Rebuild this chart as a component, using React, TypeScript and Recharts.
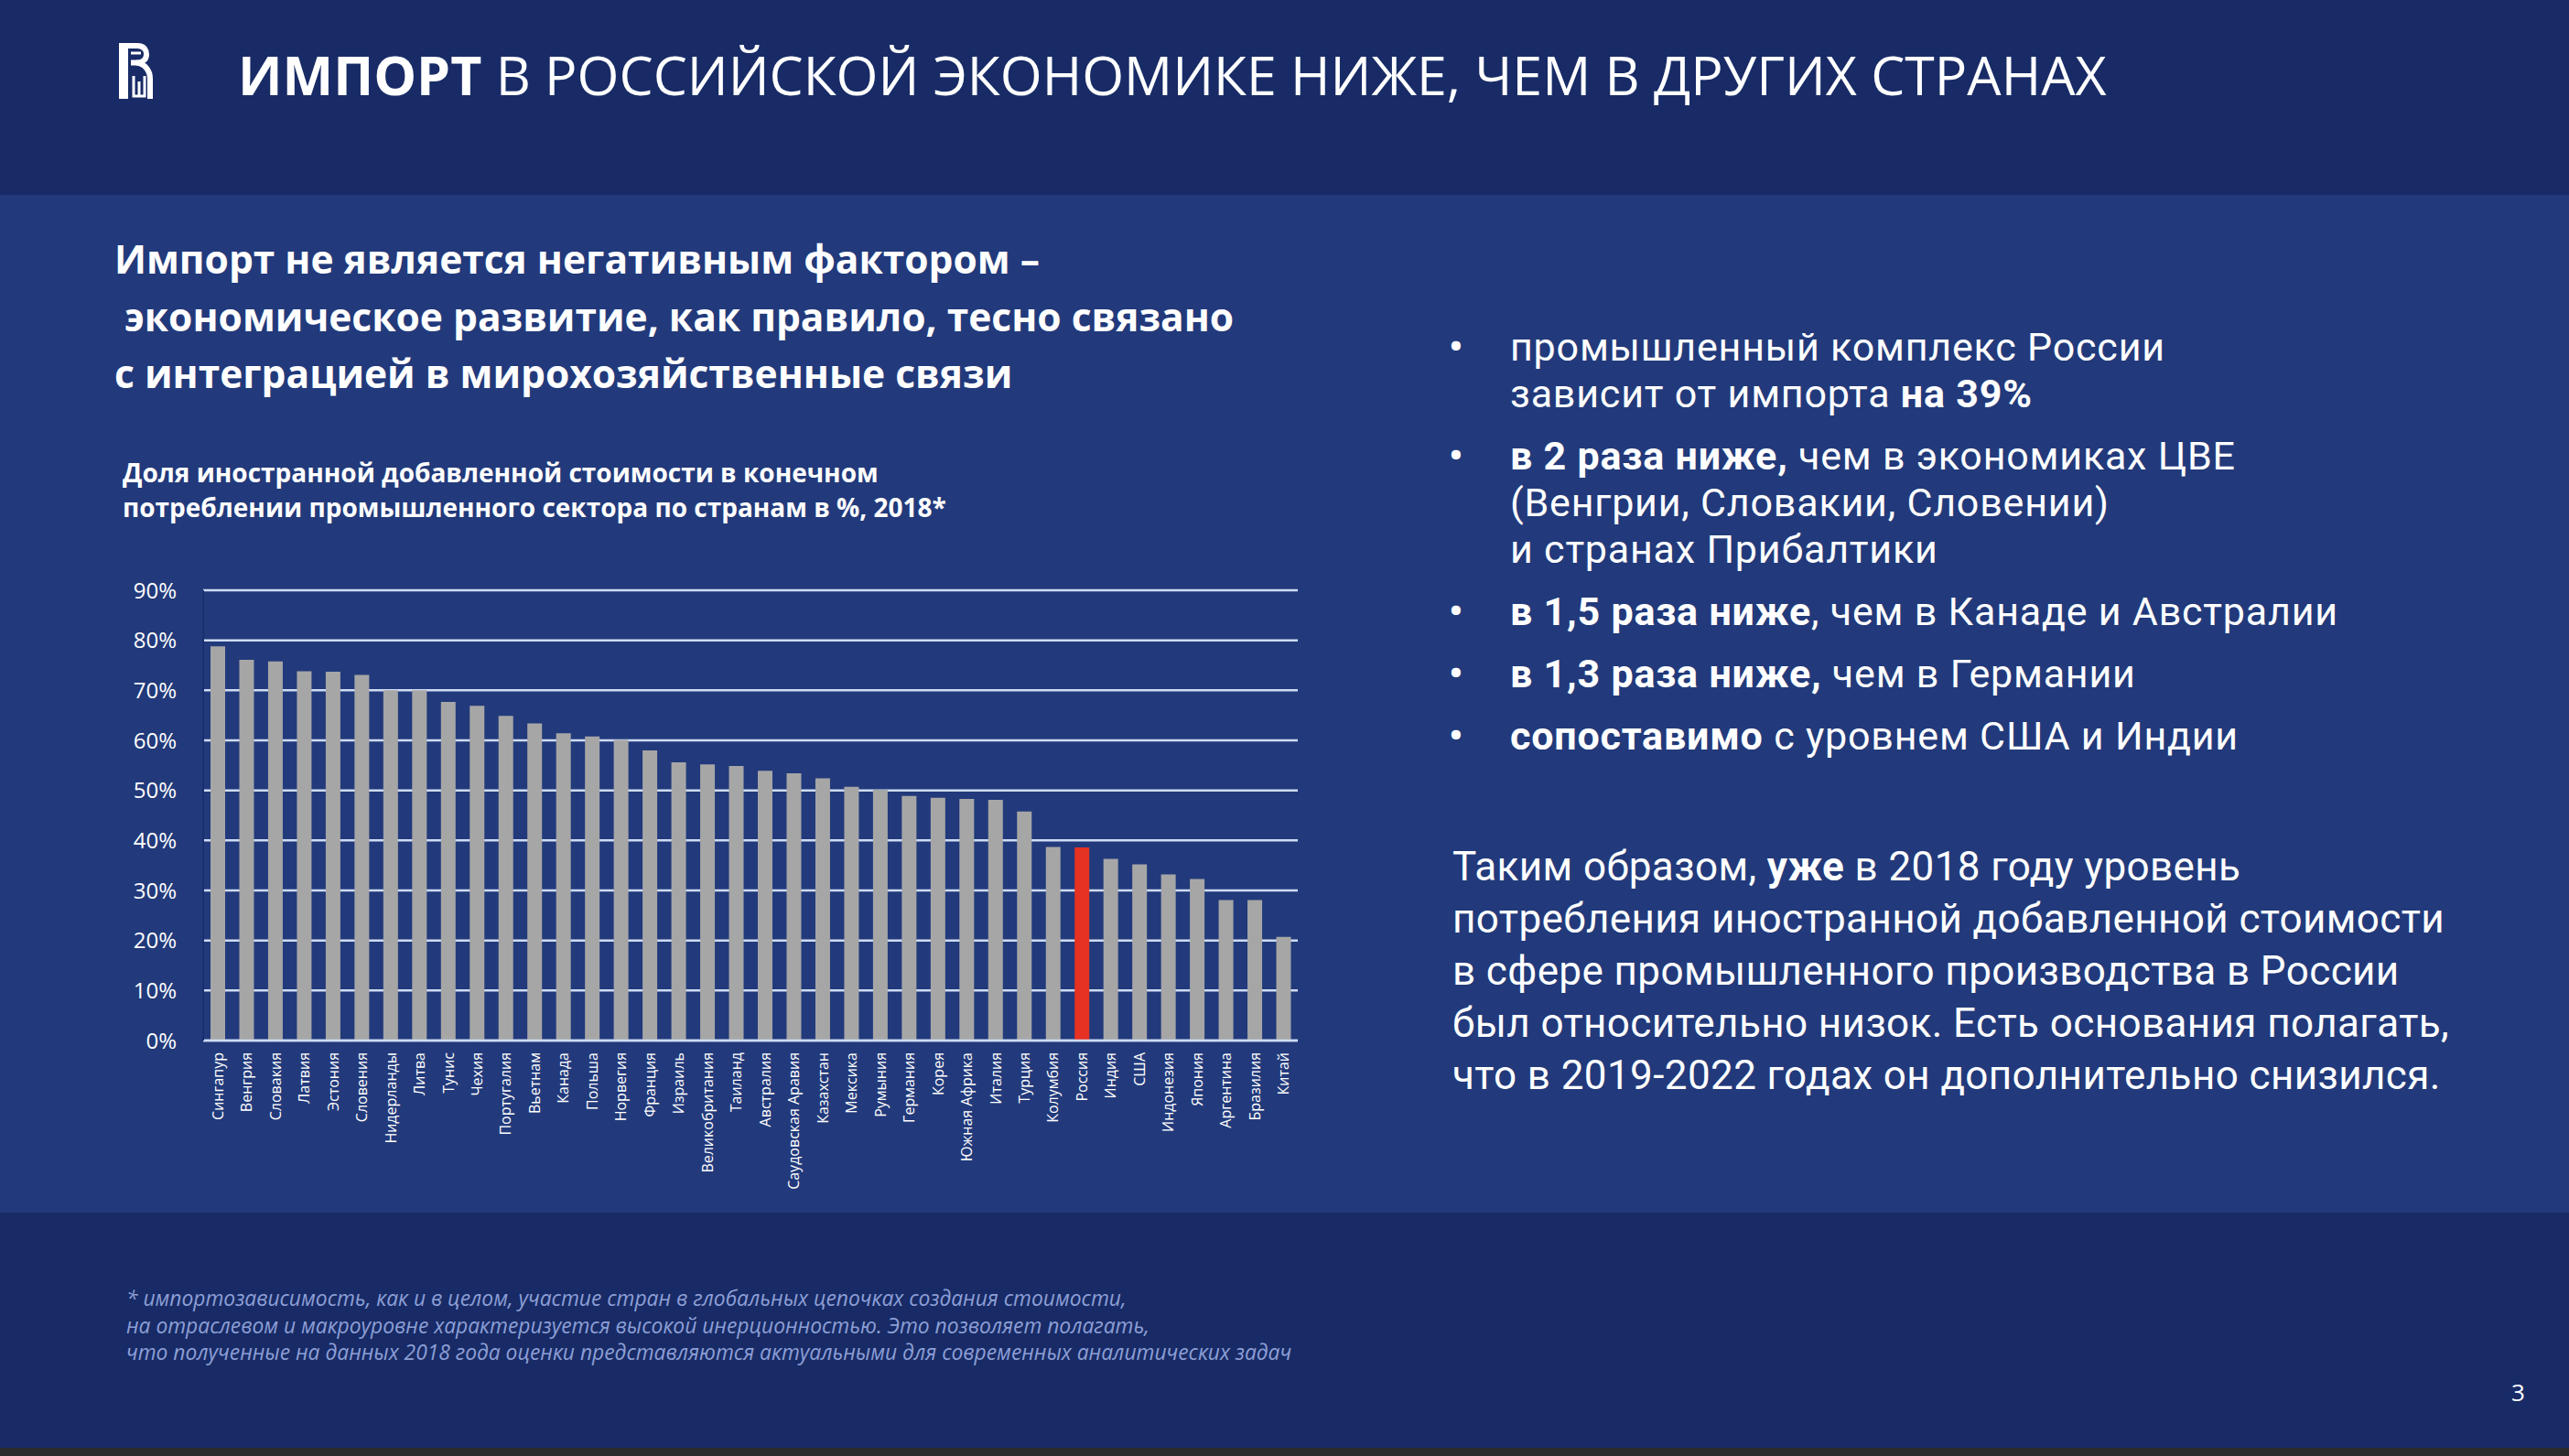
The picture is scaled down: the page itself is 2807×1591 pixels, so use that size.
import React from "react";
import {
  BarChart,
  Bar,
  Cell,
  XAxis,
  YAxis,
  CartesianGrid,
} from "recharts";

// Доля иностранной добавленной стоимости, %, 2018
const countries = [
  "Сингапур", "Венгрия", "Словакия", "Латвия", "Эстония", "Словения",
  "Нидерланды", "Литва", "Тунис", "Чехия", "Португалия", "Вьетнам",
  "Канада", "Польша", "Норвегия", "Франция", "Израиль", "Великобритания",
  "Таиланд", "Австралия", "Саудовская Аравия", "Казахстан", "Мексика",
  "Румыния", "Германия", "Корея", "Южная Африка", "Италия", "Турция",
  "Колумбия", "Россия", "Индия", "США", "Индонезия", "Япония",
  "Аргентина", "Бразилия", "Китай",
];
const shares = [
  78.8, 76.1, 75.8, 73.8, 73.7, 73.1,
  70.0, 70.0, 67.7, 66.9, 64.9, 63.4,
  61.4, 60.8, 60.1, 58.0, 55.6, 55.2,
  54.9, 53.9, 53.4, 52.4, 50.7,
  50.1, 48.9, 48.5, 48.3, 48.1, 45.8,
  38.7, 38.6, 36.3, 35.2, 33.2, 32.3,
  28.1, 28.1, 20.7,
];
const highlighted = "Россия";
const yTicks = [0, 10, 20, 30, 40, 50, 60, 70, 80, 90];

const chartData = countries.map((name, i) => ({ name, value: shares[i] }));

const FONT = "'Open Sans', 'Noto Sans', sans-serif";
const FONT_RIGHT = "Roboto, 'Open Sans', sans-serif";
const GRID = "#cfdcf5";

const CountryTick = (props: any) => {
  const { x, y, payload } = props;
  return (
    <text
      x={x}
      y={y}
      transform={`rotate(-90, ${x}, ${y})`}
      textAnchor="end"
      dominantBaseline="central"
      fill="#ffffff"
      fontSize={16}
      fontFamily={FONT}
    >
      {payload.value}
    </text>
  );
};

const Logo = () => (
  <svg
    width={40}
    height={62}
    viewBox="0 0 40 62"
    style={{ position: "absolute", left: 130, top: 47 }}
  >
    <rect x={0} y={0} width={10} height={61} fill="#fff" />
    <path
      d="M8 3 H20 C28 3 30 8 30 12.5 C30 18 26 21.5 19 21.5 H13"
      stroke="#fff"
      strokeWidth={6}
      fill="none"
    />
    <path d="M13 11 H24" stroke="#fff" strokeWidth={3} />
    <path
      d="M19 21.5 C28 22.5 34 30 34 39 V61"
      stroke="#fff"
      strokeWidth={6}
      fill="none"
    />
    <path d="M16 36 V58 H28 V36" stroke="#fff" strokeWidth={3} fill="none" />
    <path d="M22 42 V58" stroke="#fff" strokeWidth={3} />
  </svg>
);

// each bullet: list of lines
const bullets: React.ReactNode[][] = [
  [
    "промышленный комплекс России",
    <>зависит от импорта <b>на 39%</b></>,
  ],
  [
    <><b>в 2 раза ниже,</b> чем в экономиках ЦВЕ</>,
    "(Венгрии, Словакии, Словении)",
    "и странах Прибалтики",
  ],
  [<><b>в 1,5 раза ниже</b>, чем в Канаде и Австралии</>],
  [<><b>в 1,3 раза ниже,</b> чем в Германии</>],
  [<><b>сопоставимо</b> с уровнем США и Индии</>],
];

const summary: React.ReactNode[] = [
  <>Таким образом, <b>уже</b> в 2018 году уровень</>,
  "потребления иностранной добавленной стоимости",
  "в сфере промышленного производства в России",
  "был относительно низок. Есть основания полагать,",
  "что в 2019-2022 годах он дополнительно снизился.",
];

const footnote = [
  "* импортозависимость, как и в целом, участие стран в глобальных цепочках создания стоимости,",
  "на отраслевом и макроуровне характеризуется высокой инерционностью. Это позволяет полагать,",
  "что полученные на данных 2018 года оценки представляются актуальными для современных аналитических задач",
];

const Lines = ({ lines, h }: { lines: React.ReactNode[]; h: number }) => (
  <>
    {lines.map((l, i) => (
      <div key={i} style={{ height: h, whiteSpace: "nowrap" }}>
        {l}
      </div>
    ))}
  </>
);

export default function App() {
  return (
    <div
      style={{
        position: "absolute",
        left: 0,
        top: 0,
        width: 2807,
        height: 1591,
        background: "#182b66",
        fontFamily: FONT,
        color: "#ffffff",
        overflow: "hidden",
      }}
    >
      {/* main panel */}
      <div
        style={{
          position: "absolute",
          left: 0,
          top: 213,
          width: 2807,
          height: 1112,
          background: "#223a7b",
        }}
      />
      <div
        style={{
          position: "absolute",
          left: 0,
          top: 1582,
          width: 2807,
          height: 9,
          background: "#2b2b2b",
        }}
      />

      <Logo />
      <div
        style={{
          position: "absolute",
          left: 260,
          top: 52,
          fontSize: 59,
          lineHeight: "59px",
          whiteSpace: "nowrap",
        }}
      >
        <b>ИМПОРТ</b> В РОССИЙСКОЙ ЭКОНОМИКЕ НИЖЕ, ЧЕМ В ДРУГИХ СТРАНАХ
      </div>

      <div
        style={{
          position: "absolute",
          left: 125,
          top: 252,
          fontSize: 42.5,
          lineHeight: "62.5px",
          fontWeight: 700,
        }}
      >
        <Lines
          h={62.5}
          lines={[
            "Импорт не является негативным фактором –",
            "\u00a0экономическое развитие, как правило, тесно связано",
            "с интеграцией в мирохозяйственные связи",
          ]}
        />
      </div>

      <div
        style={{
          position: "absolute",
          left: 134,
          top: 497,
          fontSize: 28,
          lineHeight: "38px",
          fontWeight: 700,
        }}
      >
        <Lines
          h={38}
          lines={[
            "Доля иностранной добавленной стоимости в конечном",
            "потреблении промышленного сектора по странам в %, 2018*",
          ]}
        />
      </div>

      <div style={{ position: "absolute", left: 130, top: 620 }}>
        <BarChart
          width={1300}
          height={700}
          data={chartData}
          margin={{ top: 25, right: 12, bottom: 0, left: 0 }}
          barSize={16}
        >
          <CartesianGrid
            yAxisId="left"
            vertical={false}
            stroke={GRID}
            strokeWidth={2.5}
          />
          <XAxis
            dataKey="name"
            yAxisId="left"
            interval={0}
            height={183}
            tick={<CountryTick />}
            tickLine={false}
            tickSize={0}
            tickMargin={13}
            axisLine={{ stroke: GRID, strokeWidth: 2.5 }}
          />
          <YAxis
            yAxisId="left"
            domain={[0, 90]}
            ticks={yTicks}
            width={92}
            tickLine={false}
            tickSize={0}
            tickMargin={29}
            axisLine={{ stroke: "#1a2f6e", strokeWidth: 2 }}
            tick={{ fill: "#ffffff", fontSize: 24, fontFamily: FONT }}
            tickFormatter={(v) => `${v}%`}
          />
          <YAxis
            yAxisId="right"
            orientation="right"
            domain={[0, 90]}
            width={0}
            tick={false}
            tickLine={false}
            axisLine={{ stroke: "#2d4a93", strokeWidth: 2 }}
          />
          <Bar dataKey="value" yAxisId="left" isAnimationActive={false}>
            {chartData.map((d) => (
              <Cell
                key={d.name}
                fill={d.name === highlighted ? "#e53222" : "#a6a6a6"}
              />
            ))}
          </Bar>
        </BarChart>
      </div>

      <div
        style={{
          position: "absolute",
          left: 1583,
          top: 354,
          width: 1150,
          fontFamily: FONT_RIGHT,
          fontSize: 43,
          lineHeight: "51px",
          letterSpacing: 0.8,
        }}
      >
        {bullets.map((b, i) => (
          <div
            key={i}
            style={{ position: "relative", paddingLeft: 67, marginBottom: 17 }}
          >
            <span
              style={{ position: "absolute", left: 0, top: 0, fontWeight: 700 }}
            >
              •
            </span>
            <Lines h={51} lines={b} />
          </div>
        ))}
      </div>

      <div
        style={{
          position: "absolute",
          left: 1587,
          top: 919,
          fontFamily: FONT_RIGHT,
          fontSize: 44,
          lineHeight: "57px",
          letterSpacing: 0.4,
        }}
      >
        <Lines h={57} lines={summary} />
      </div>

      <div
        style={{
          position: "absolute",
          left: 138,
          top: 1404,
          fontSize: 22.8,
          lineHeight: "29.5px",
          fontStyle: "italic",
          color: "#8d9fd6",
        }}
      >
        <Lines h={29.5} lines={footnote} />
      </div>

      <div
        style={{
          position: "absolute",
          left: 2744,
          top: 1504,
          fontSize: 26,
          lineHeight: "34px",
        }}
      >
        3
      </div>
    </div>
  );
}
